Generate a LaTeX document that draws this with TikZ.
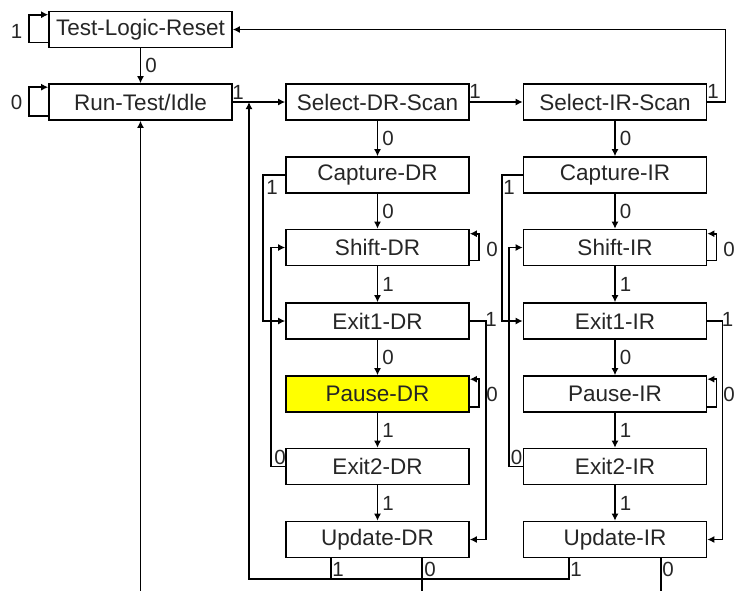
\documentclass[tikz,border=0pt]{standalone}
\usepackage{fontspec}
\setmainfont{Liberation Sans}
\usetikzlibrary{arrows.meta,calc}
\definecolor{hlyellow}{RGB}{255,255,0}
\begin{document}
\begin{tikzpicture}[x=1pt,y=-1pt,
  state/.style={draw=black, line width=1.6pt, minimum width=183pt, minimum height=36pt,
                inner sep=0pt, fill=white, text=black!85, font=\fontsize{22.5}{25}\selectfont},
  wire/.style={draw=black, line width=1.6pt},
  arr/.style={wire, -{Latex[length=7pt,width=7pt]}},
  lbl/.style={font=\fontsize{20.5}{23}\selectfont, inner sep=0pt, text=black!85}
]
\useasboundingbox (0,0) rectangle (737,590);

% states
\node[state] (tlr) at (140.5,29.5) {Test-Logic-Reset};
\node[state] (rti) at (140.5,102) {Run-Test/Idle};
\node[state] (sdr) at (377.5,102) {Select-DR-Scan};
\node[state] (sir) at (615,102) {Select-IR-Scan};

\node[state] (cdr)  at (377.5,175) {Capture-DR};
\node[state] (shdr) at (377.5,247.5) {Shift-DR};
\node[state] (edra) at (377.5,321) {Exit1-DR};
\node[state, fill=hlyellow] (pdr) at (377.5,394) {Pause-DR};
\node[state] (edrb) at (377.5,466.5) {Exit2-DR};
\node[state] (udr)  at (377.5,539.5) {Update-DR};

\node[state] (cir)  at (615,175) {Capture-IR};
\node[state] (shir) at (615,247.5) {Shift-IR};
\node[state] (eira) at (615,321) {Exit1-IR};
\node[state] (pir)  at (615,394) {Pause-IR};
\node[state] (eirb) at (615,466.5) {Exit2-IR};
\node[state] (uir)  at (615,539.5) {Update-IR};

% left self loops
\draw[arr] ($(tlr.south west)+(0,-6)$) -- ++(-19,0) |- ($(tlr.north west)+(0,4)$);
\node[lbl] at (16.5,31) {1};
\draw[arr] ($(rti.south west)+(0,-5)$) -- ++(-19,0) |- ($(rti.north west)+(0,4)$);
\node[lbl] at (16.5,102.5) {0};

% Test-Logic-Reset -> Run-Test/Idle
\draw[arr] (tlr) -- (rti) node[lbl, midway, right=4pt] {0};

% Run-Test/Idle -> Select-DR-Scan
\draw[arr] (rti) -- (sdr);
\node[lbl] at (238,92) {1};
% Select-DR-Scan -> Select-IR-Scan
\draw[arr] (sdr) -- (sir);
\node[lbl] at (475,91) {1};
% Select-IR-Scan -> Test-Logic-Reset
\draw[arr] (sir.east) -- ++(18,0) |- (tlr.east);
\node[lbl] at (713,91) {1};

% DR column verticals
\draw[arr] (sdr) -- (cdr) node[lbl, midway, right=4pt] {0};
\draw[arr] (cdr) -- (shdr) node[lbl, midway, right=4pt] {0};
\draw[arr] (shdr) -- (edra) node[lbl, midway, right=4pt] {1};
\draw[arr] (edra) -- (pdr) node[lbl, midway, right=4pt] {0};
\draw[arr] (pdr) -- (edrb) node[lbl, midway, right=4pt] {1};
\draw[arr] (edrb) -- (udr) node[lbl, midway, right=4pt] {1};

% IR column verticals
\draw[arr] (sir) -- (cir) node[lbl, midway, right=4pt] {0};
\draw[arr] (cir) -- (shir) node[lbl, midway, right=4pt] {0};
\draw[arr] (shir) -- (eira) node[lbl, midway, right=4pt] {1};
\draw[arr] (eira) -- (pir) node[lbl, midway, right=4pt] {0};
\draw[arr] (pir) -- (eirb) node[lbl, midway, right=4pt] {1};
\draw[arr] (eirb) -- (uir) node[lbl, midway, right=4pt] {1};

% DR left side
\draw[arr] (cdr.west) -- ++(-22,0) |- (edra.west);
\node[lbl] at (272,187) {1};
\draw[arr] (edrb.west) -- ++(-14,0) |- (shdr.west);
\node[lbl] at (280,457) {0};

% IR left side
\draw[arr] (cir.west) -- ++(-21,0) |- (eira.west);
\node[lbl] at (509,187) {1};
\draw[arr] (eirb.west) -- ++(-14,0) |- (shir.west);
\node[lbl] at (516.5,457) {0};

% DR right side
\draw[arr] ($(shdr.south east)+(0,-6)$) -- ++(9,0) |- ($(shdr.north east)+(0,5)$);
\node[lbl] at (492,249) {0};
\draw[arr] ($(pdr.south east)+(0,-6)$) -- ++(9,0) |- ($(pdr.north east)+(0,4)$);
\node[lbl] at (492,394) {0};
\draw[arr] (edra.east) -- ++(16,0) |- (udr.east);
\node[lbl] at (491,319) {1};

% IR right side
\draw[arr] ($(shir.south east)+(0,-6)$) -- ++(9,0) |- ($(shir.north east)+(0,5)$);
\node[lbl] at (729,249) {0};
\draw[arr] ($(pir.south east)+(0,-6)$) -- ++(9,0) |- ($(pir.north east)+(0,4)$);
\node[lbl] at (729,394) {0};
\draw[arr] (eira.east) -- ++(15,0) |- (uir.east);
\node[lbl] at (727.5,319) {1};

% Update exits
\coordinate (ret) at (249,579);
\draw[arr] ($(uir.south west)+(46,0)$) |- (ret) -- (ret |- sdr.west);
\draw[wire] ($(udr.south west)+(46,0)$) -- ++(0,22);
\node[lbl] at (338,569) {1};
\node[lbl] at (576,569) {1};
\draw[wire] ($(udr.south west)+(137,0)$) -- ++(0,36);
\node[lbl] at (430,569) {0};
\draw[wire] ($(uir.south west)+(138,0)$) -- ++(0,36);
\node[lbl] at (668,569) {0};

% return into Run-Test/Idle from below
\coordinate (bot) at (140.5,594);
\draw[arr] (bot) -- (rti.south);
\end{tikzpicture}
\end{document}
